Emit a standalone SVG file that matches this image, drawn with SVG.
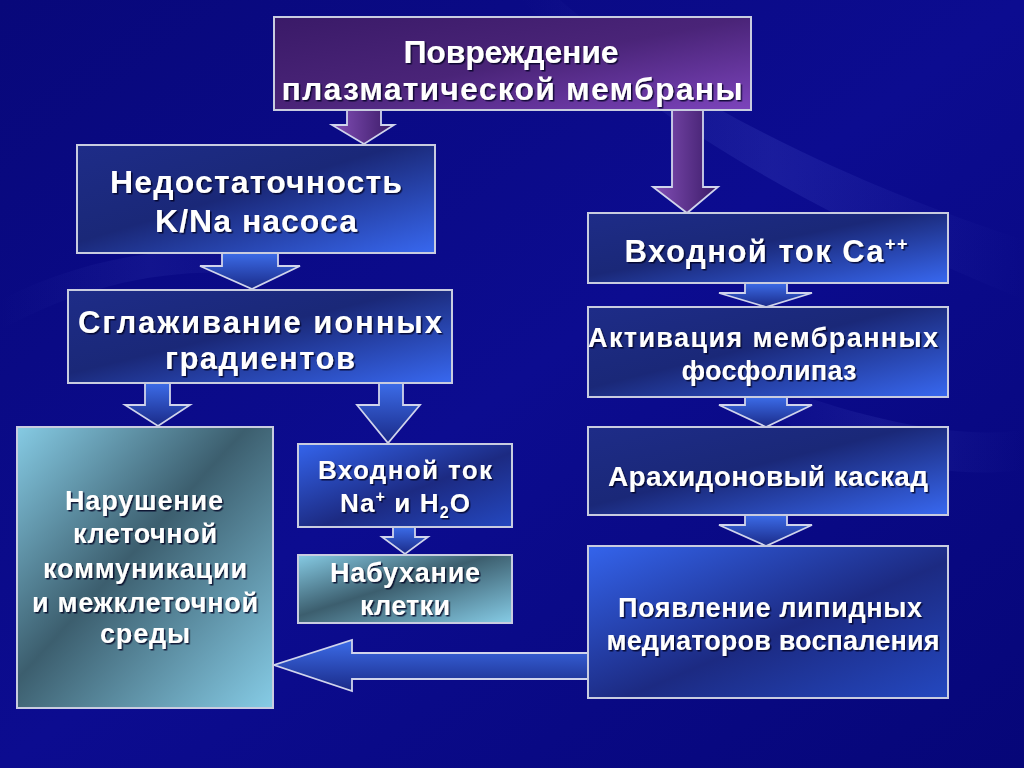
<svg xmlns="http://www.w3.org/2000/svg" width="1024" height="768" viewBox="0 0 1024 768">
<defs>
<linearGradient id="bg" x1="0" y1="0" x2="1" y2="1">
<stop offset="0" stop-color="#08087a"/><stop offset="0.5" stop-color="#0c0c90"/><stop offset="1" stop-color="#060678"/>
</linearGradient>
<linearGradient id="streak" x1="0" y1="0" x2="1" y2="0">
<stop offset="0" stop-color="#6a7ae8" stop-opacity="0"/><stop offset="0.5" stop-color="#6a7ae8" stop-opacity="0.3"/><stop offset="1" stop-color="#6a7ae8" stop-opacity="0"/>
</linearGradient>
<linearGradient id="blue" x1="0" y1="0" x2="1" y2="1">
<stop offset="0" stop-color="#1e2c88"/><stop offset="0.45" stop-color="#1a2878"/><stop offset="1" stop-color="#3868f0"/>
</linearGradient>
<linearGradient id="blue2" x1="0" y1="0" x2="1" y2="1">
<stop offset="0" stop-color="#3464ec"/><stop offset="0.55" stop-color="#1c2a82"/><stop offset="1" stop-color="#2448c0"/>
</linearGradient>
<linearGradient id="teal" x1="0" y1="0" x2="1" y2="1">
<stop offset="0" stop-color="#86cbe4"/><stop offset="0.45" stop-color="#3c5e6e"/><stop offset="1" stop-color="#86cce6"/>
</linearGradient>
<linearGradient id="purple" x1="0" y1="0" x2="1" y2="1">
<stop offset="0" stop-color="#3a1a68"/><stop offset="0.5" stop-color="#4a2478"/><stop offset="1" stop-color="#7c44bc"/>
</linearGradient>
<linearGradient id="parrow" x1="0" y1="0" x2="1" y2="0">
<stop offset="0" stop-color="#8450b8"/><stop offset="1" stop-color="#3a1a66"/>
</linearGradient>
<linearGradient id="barrow" x1="0" y1="0" x2="0" y2="1">
<stop offset="0" stop-color="#3c6ce8"/><stop offset="1" stop-color="#1a2a88"/>
</linearGradient>
<filter id="sh" x="-10%" y="-20%" width="120%" height="140%">
<feDropShadow dx="1.5" dy="1.5" stdDeviation="0.6" flood-color="#000020" flood-opacity="0.8"/>
</filter>
</defs>
<style>
.box{stroke:#c8cce0;stroke-width:2}
.arr{stroke:#d0d4ec;stroke-width:1.8;stroke-linejoin:miter}
text{font-family:"Liberation Sans",Arial,sans-serif;font-weight:bold;fill:#ffffff;text-anchor:middle;filter:url(#sh)}
</style>
<rect width="1024" height="768" fill="url(#bg)"/>
<path d="M560 0 C700 120 900 200 1024 240 L1024 300 C880 240 700 160 520 0 Z" fill="url(#streak)" opacity="0.5"/>
<path d="M760 380 C860 420 960 440 1024 430 L1024 470 C940 480 850 460 740 400 Z" fill="url(#streak)" opacity="0.4"/>
<path d="M0 300 C100 250 200 240 300 260 L300 280 C200 262 100 275 0 330 Z" fill="url(#streak)" opacity="0.3"/>

<g id="connectors">
<path class="arr" fill="url(#parrow)" d="M347 110 L381 110 L381 125 L394 125 L364 144 L332 125 L347 125 Z"/>
<path class="arr" fill="url(#parrow)" d="M672 110 L703 110 L703 187 L718 187 L687 213 L653 187 L672 187 Z"/>
<path class="arr" fill="url(#barrow)" d="M222 253 L278 253 L278 266 L300 266 L252 289 L200 266 L222 266 Z"/>
<path class="arr" fill="url(#barrow)" d="M145 383 L170 383 L170 405 L190 405 L158 426 L125 405 L145 405 Z"/>
<path class="arr" fill="url(#barrow)" d="M379 383 L403 383 L403 405 L420 405 L388 443 L357 405 L379 405 Z"/>
<path class="arr" fill="url(#barrow)" d="M393 527 L415 527 L415 537 L428 537 L405 554 L382 537 L393 537 Z"/>
<path class="arr" fill="url(#barrow)" d="M745 283 L787 283 L787 293 L812 293 L766 307 L719 293 L745 293 Z"/>
<path class="arr" fill="url(#barrow)" d="M745 397 L787 397 L787 405 L812 405 L766 427 L719 405 L745 405 Z"/>
<path class="arr" fill="url(#barrow)" d="M745 515 L787 515 L787 525 L812 525 L766 546 L719 525 L745 525 Z"/>
<path class="arr" fill="url(#barrow)" d="M589 653 L352 653 L352 640 L274 665 L352 691 L352 679 L589 679 Z"/>
</g>

<g id="n1">
<rect class="box" x="274" y="17" width="477" height="93" fill="url(#purple)"/>
<text x="511" y="63" font-size="32" textLength="215" lengthAdjust="spacing">Повреждение</text>
<text x="512" y="100" font-size="32" textLength="461" lengthAdjust="spacing">плазматической мембраны</text>
</g>
<g id="n2">
<rect class="box" x="77" y="145" width="358" height="108" fill="url(#blue)"/>
<text x="256" y="193" font-size="32" textLength="292" lengthAdjust="spacing">Недостаточность</text>
<text x="256" y="232" font-size="32" textLength="202" lengthAdjust="spacing">K/Na насоса</text>
</g>
<g id="n3">
<rect class="box" x="68" y="290" width="384" height="93" fill="url(#blue)"/>
<text x="260" y="333" font-size="31" textLength="364" lengthAdjust="spacing">Сглаживание ионных</text>
<text x="260" y="369" font-size="31" textLength="190" lengthAdjust="spacing">градиентов</text>
</g>
<g id="n4">
<rect class="box" x="17" y="427" width="256" height="281" fill="url(#teal)"/>
<text x="144" y="510" font-size="27" textLength="158" lengthAdjust="spacing">Нарушение</text>
<text x="145" y="543" font-size="27" textLength="144" lengthAdjust="spacing">клеточной</text>
<text x="145" y="578" font-size="27" textLength="204" lengthAdjust="spacing">коммуникации</text>
<text x="145" y="612" font-size="27" textLength="226" lengthAdjust="spacing">и межклеточной</text>
<text x="145" y="643" font-size="27" textLength="90" lengthAdjust="spacing">среды</text>
</g>
<g id="n5">
<rect class="box" x="298" y="444" width="214" height="83" fill="url(#blue2)"/>
<text x="405" y="479" font-size="26" textLength="174" lengthAdjust="spacing">Входной ток</text>
<text x="405" y="512" font-size="26" textLength="130" lengthAdjust="spacing">Na<tspan font-size="16" dy="-10">+</tspan><tspan dy="10"> и H</tspan><tspan font-size="16" dy="6">2</tspan><tspan dy="-6">O</tspan></text>
</g>
<g id="n6">
<rect class="box" x="298" y="555" width="214" height="68" fill="url(#teal)"/>
<text x="405" y="582" font-size="27" textLength="150" lengthAdjust="spacing">Набухание</text>
<text x="405" y="615" font-size="27" textLength="90" lengthAdjust="spacing">клетки</text>
</g>
<g id="n7">
<rect class="box" x="588" y="213" width="360" height="70" fill="url(#blue)"/>
<text x="766" y="262" font-size="31" textLength="283" lengthAdjust="spacing">Входной ток Ca<tspan font-size="18" dy="-12">++</tspan></text>
</g>
<g id="n8">
<rect class="box" x="588" y="307" width="360" height="90" fill="url(#blue)"/>
<text x="763" y="347" font-size="27" textLength="350" lengthAdjust="spacing">Активация мембранных</text>
<text x="769" y="380" font-size="27" textLength="175" lengthAdjust="spacing">фосфолипаз</text>
</g>
<g id="n9">
<rect class="box" x="588" y="427" width="360" height="88" fill="url(#blue)"/>
<text x="768" y="486" font-size="28" textLength="320" lengthAdjust="spacing">Арахидоновый каскад</text>
</g>
<g id="n10">
<rect class="box" x="588" y="546" width="360" height="152" fill="url(#blue2)"/>
<text x="770" y="617" font-size="27" textLength="304" lengthAdjust="spacing">Появление липидных</text>
<text x="773" y="650" font-size="27" textLength="333" lengthAdjust="spacing">медиаторов воспаления</text>
</g>
</svg>
